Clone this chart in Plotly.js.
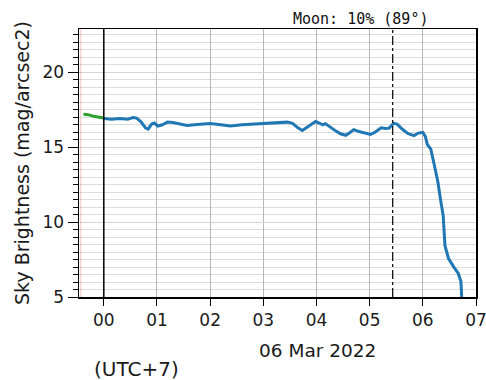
<!DOCTYPE html>
<html>
<head>
<meta charset="utf-8">
<script src="https://cdn.plot.ly/plotly-3.0.1.min.js"></script>
<style>html,body{margin:0;padding:0;background:#fff;}#chart{width:486px;height:380px;}</style>
</head>
<body>
<div id="chart"></div>
<script>
// Twilight segment (before midnight, 5 Mar -> 6 Mar)
var twilightTimes = ["2022-03-05 23:37", "2022-03-05 23:42", "2022-03-05 23:50", "2022-03-05 23:55", "2022-03-06 00:00"];
var twilightMag = [17.2, 17.18, 17.05, 17.0, 16.95];

// Night segment, 6 Mar 2022 (local UTC+7)
var nightClock = ["00:00","00:09","00:18","00:27","00:33","00:37","00:42","00:47","00:50","00:54","00:57",
  "01:01","01:06","01:12","01:18","01:27","01:34","01:45","02:00","02:12","02:23","02:36","02:48","02:56",
  "03:06","03:18","03:27","03:33","03:39","03:44","03:51","03:59","04:03","04:07","04:10","04:15","04:22",
  "04:27","04:33","04:37","04:42","04:48","04:55","05:01","05:06","05:13","05:18","05:22","05:27","05:31",
  "05:37","05:43","05:50","05:55","06:00","06:03","06:05","06:09","06:13","06:17","06:20","06:23","06:25",
  "06:27","06:29","06:35","06:40","06:43","06:44"];
var nightMag = [16.92,16.88,16.92,16.88,16.98,16.95,16.7,16.3,16.22,16.55,16.62,
  16.42,16.5,16.68,16.65,16.55,16.45,16.52,16.58,16.5,16.42,16.5,16.55,16.58,
  16.6,16.68,16.68,16.6,16.3,16.12,16.4,16.72,16.62,16.5,16.58,16.35,16.08,
  15.9,15.8,15.95,16.18,16.05,15.95,15.86,16.0,16.3,16.25,16.28,16.6,16.55,
  16.2,15.93,15.78,15.95,16.0,15.7,15.2,14.87,13.8,12.68,11.5,10.42,8.43,
  7.9,7.57,7.0,6.57,6.04,4.8];
var day = "2022-03-06";
var nightTimes = nightClock.map(function(c){ return day + " " + c; });

var xRange = ["2022-03-05 23:32", "2022-03-06 07:00"];
var yRange = [5, 22.9];
var midnight = "2022-03-06 00:00";
var moonTime = "2022-03-06 05:26";
var sunsetTime = "2022-03-05 23:34";
var moonLabel = "Moon: 10% (89°)";
var dateLabel = "06 Mar 2022";
var tzLabel = "(UTC+7)";
var yTitle = "Sky Brightness (mag/arcsec2)";

var traces = [
  {x: twilightTimes, y: twilightMag, type: "scatter", mode: "lines", line: {color: "#2ca02c", width: 3}, hoverinfo: "skip"},
  {x: nightTimes, y: nightMag, type: "scatter", mode: "lines", line: {color: "#1f77b4", width: 3}, hoverinfo: "skip"}
];

var layout = {
  width: 486, height: 380,
  margin: {l: 79, r: 10, t: 29, b: 83},
  paper_bgcolor: "#fff", plot_bgcolor: "#fff",
  showlegend: false,
  font: {family: "DejaVu Sans", size: 17, color: "#1a1a1a"},
  xaxis: {
    type: "date", range: xRange, dtick: 3600000, tick0: midnight, tickformat: "%H",
    showgrid: true, gridcolor: "#b8b8b8", gridwidth: 1,
    ticks: "outside", ticklen: 7, tickcolor: "#000", tickwidth: 1,
    showline: true, linecolor: "#000", linewidth: 1.5, mirror: true,
    zeroline: false, tickfont: {size: 17, color: "#1a1a1a"},
    ticklabeloverflow: "allow"
  },
  yaxis: {
    range: yRange, dtick: 5, tick0: 5,
    showgrid: true, gridcolor: "#d5d5d5", gridwidth: 1,
    ticks: "outside", ticklen: 10, tickcolor: "#000", tickwidth: 1,
    minor: {dtick: 0.5, showgrid: true, gridcolor: "#dcdcdc", gridwidth: 1, ticks: "outside", ticklen: 5, tickcolor: "#000"},
    showline: true, linecolor: "#000", linewidth: 1.5, mirror: true,
    zeroline: false, tickfont: {size: 17, color: "#1a1a1a"},
    title: {text: yTitle, font: {size: 19, color: "#1a1a1a"}, standoff: 8}
  },
  shapes: [
    {type: "line", xref: "x", yref: "paper", x0: sunsetTime, x1: sunsetTime, y0: 0, y1: 1, line: {color: "rgba(220,60,60,0.3)", width: 1}},
    {type: "line", xref: "x", yref: "paper", x0: midnight, x1: midnight, y0: 0, y1: 1, line: {color: "#000", width: 1.5}},
    {type: "line", xref: "x", yref: "paper", x0: moonTime, x1: moonTime, y0: 0, y1: 1, line: {color: "#000", width: 1.2, dash: "dashdot"}}
  ],
  annotations: [
    {text: moonLabel, xref: "paper", yref: "paper", x: 0.708, y: 1.0, yanchor: "bottom", xanchor: "center", showarrow: false, yshift: -1,
     font: {family: "DejaVu Sans Mono", size: 15, color: "#111"}},
    {text: dateLabel, xref: "paper", yref: "paper", x: 0.6, y: -0.198, xanchor: "center", yanchor: "middle", showarrow: false,
     font: {size: 18.5, color: "#1a1a1a"}},
    {text: tzLabel, xref: "paper", yref: "paper", x: 0.1436, y: -0.27, xanchor: "center", yanchor: "middle", showarrow: false,
     font: {size: 20, color: "#1a1a1a"}}
  ]
};

Plotly.newPlot("chart", traces, layout, {staticPlot: true, displayModeBar: false});
</script>
</body>
</html>
